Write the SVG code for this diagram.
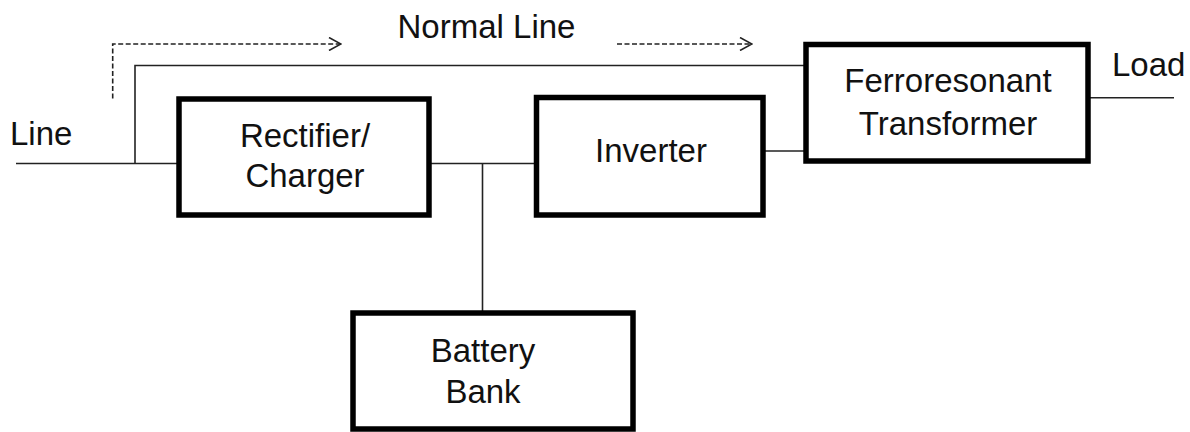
<svg xmlns="http://www.w3.org/2000/svg" width="1190" height="432" viewBox="0 0 1190 432">
<style>
.box{fill:#fff;stroke:#000;stroke-width:5.5}
.wire{fill:none;stroke:#222;stroke-width:1.6}
.dash{fill:none;stroke:#222;stroke-width:1.6;stroke-dasharray:5 2.5}
.lbl{font-family:"Liberation Sans",Arial,sans-serif;font-size:33px;fill:#111}
.c{text-anchor:middle}
</style>
<defs>
<marker id="chev" viewBox="0 0 14 14" refX="13" refY="7" markerWidth="14" markerHeight="14" markerUnits="userSpaceOnUse" orient="auto">
<path d="M1,0.5 L13,7 L1,13.5" fill="none" stroke="#222" stroke-width="1.6"/>
</marker>
</defs>
<g id="connectors">
<path class="wire" d="M16,163.5 H179"/>
<path class="wire" d="M135,163.5 V65.5 H806"/>
<path class="wire" d="M429,163.5 H536.5"/>
<path class="wire" d="M482.5,163.5 V313"/>
<path class="wire" d="M763,151 H806"/>
<path class="wire" d="M1088,97.7 H1174"/>
<path class="dash" d="M112.7,98.5 V44 H341" marker-end="url(#chev)"/>
<path class="dash" d="M617,44 H752" marker-end="url(#chev)"/>
</g>
<g id="label-line"><text class="lbl" x="10" y="144.5">Line</text></g>
<g id="label-normal"><text class="lbl c" x="486.5" y="38.3">Normal Line</text></g>
<g id="label-load"><text class="lbl" x="1112" y="75.7">Load</text></g>
<g id="rectifier">
<rect class="box" x="179" y="99" width="250" height="116"/>
<text class="lbl c" x="305" y="146.7">Rectifier/</text>
<text class="lbl c" x="305" y="186.7">Charger</text>
</g>
<g id="inverter">
<rect class="box" x="536.5" y="97.5" width="226.5" height="117.5"/>
<text class="lbl c" x="651" y="161.7">Inverter</text>
</g>
<g id="ferro">
<rect class="box" x="806" y="44.5" width="282" height="116.5"/>
<text class="lbl c" x="948" y="91.7">Ferroresonant</text>
<text class="lbl c" x="948" y="134.5">Transformer</text>
</g>
<g id="battery">
<rect class="box" x="353" y="313" width="280" height="116"/>
<text class="lbl c" x="483" y="361.7">Battery</text>
<text class="lbl c" x="483" y="403.3">Bank</text>
</g>
</svg>
